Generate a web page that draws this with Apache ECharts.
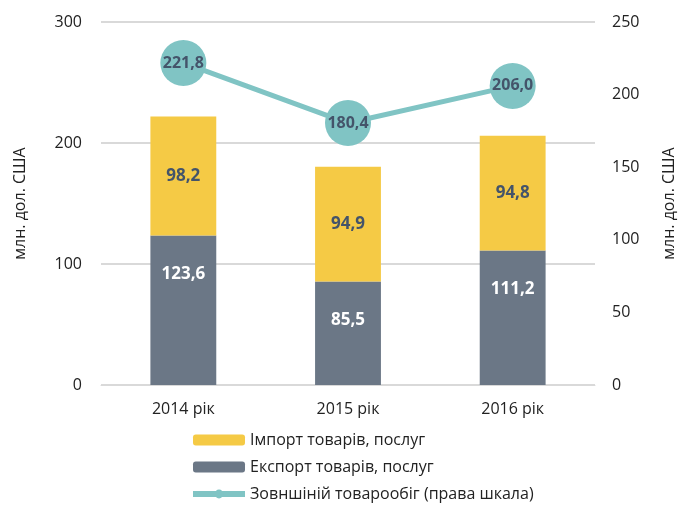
<!DOCTYPE html>
<html>
<head>
<meta charset="utf-8">
<script src="https://cdn.jsdelivr.net/npm/echarts@6/dist/echarts.min.js"></script>
<style>
  html, body { margin: 0; padding: 0; background: #fff; }
  #chart { width: 687px; height: 510px; }
</style>
</head>
<body>
<div id="chart"></div>
<script>
const years = ["2014 рік", "2015 рік", "2016 рік"];
const importVals = [98.2, 94.9, 94.8];
const exportVals = [123.6, 85.5, 111.2];
const turnover = [221.8, 180.4, 206.0];

const fmt = (v) => v.toFixed(1).replace(".", ",");
const font = "'Open Sans', 'Noto Sans', sans-serif";

const chart = echarts.init(document.getElementById("chart"));
chart.setOption({
  animation: false,
  textStyle: { fontFamily: font },
  grid: { left: 101, right: 92, top: 22, bottom: 125, containLabel: false },
  legend: {
    orient: "vertical",
    left: 185,
    top: 427,
    itemGap: 11,
    itemWidth: 52,
    itemHeight: 11,
    textStyle: { fontSize: 16, color: "#222", fontFamily: font },
    data: [
      { name: "Імпорт товарів, послуг" },
      { name: "Експорт товарів, послуг" },
      { name: "Зовншіній товарообіг (права шкала)", lineStyle: { width: 6 } }
    ]
  },
  xAxis: {
    type: "category",
    data: years,
    axisLine: { lineStyle: { color: "#d9d9d9", width: 1 } },
    axisTick: { show: false },
    axisLabel: { fontSize: 16, color: "#222", margin: 16 }
  },
  yAxis: [
    {
      type: "value",
      min: 0,
      max: 300,
      interval: 100,
      name: "млн. дол. США",
      nameLocation: "middle",
      nameGap: 73,
      nameTextStyle: { fontSize: 16, color: "#222" },
      axisLabel: { fontSize: 16, color: "#222", margin: 19 },
      axisLine: { show: false },
      axisTick: { show: false },
      splitLine: { lineStyle: { color: "#d9d9d9", width: 2 } }
    },
    {
      type: "value",
      min: 0,
      max: 250,
      interval: 50,
      name: "млн. дол. США",
      nameLocation: "middle",
      nameGap: 66,
      nameRotate: 90,
      nameTextStyle: { fontSize: 16, color: "#222" },
      axisLabel: { fontSize: 16, color: "#222", margin: 17, align: "left" },
      axisLine: { show: false },
      axisTick: { show: false },
      splitLine: { show: false }
    }
  ],
  series: [
    {
      name: "Експорт товарів, послуг",
      type: "bar",
      stack: "total",
      barWidth: "40%",
      data: exportVals,
      itemStyle: { color: "#6b7786" },
      label: {
        show: true,
        position: "insideTop",
        distance: 30,
        color: "#fff",
        fontWeight: "bold",
        fontSize: 17,
        formatter: (p) => fmt(p.value)
      }
    },
    {
      name: "Імпорт товарів, послуг",
      type: "bar",
      stack: "total",
      barWidth: "40%",
      data: importVals,
      itemStyle: { color: "#f5ca45" },
      label: {
        show: true,
        position: "inside",
        color: "#44546a",
        fontWeight: "bold",
        fontSize: 17,
        formatter: (p) => fmt(p.value)
      }
    },
    {
      name: "Зовншіній товарообіг (права шкала)",
      type: "line",
      yAxisIndex: 1,
      data: turnover,
      symbol: "circle",
      symbolSize: 46,
      lineStyle: { color: "#80c4c4", width: 5 },
      itemStyle: { color: "#80c4c4" },
      z: 5,
      label: {
        show: true,
        position: "inside",
        color: "#44546a",
        fontWeight: "bold",
        fontSize: 16,
        formatter: (p) => fmt(p.value)
      }
    }
  ]
});
</script>
</body>
</html>
